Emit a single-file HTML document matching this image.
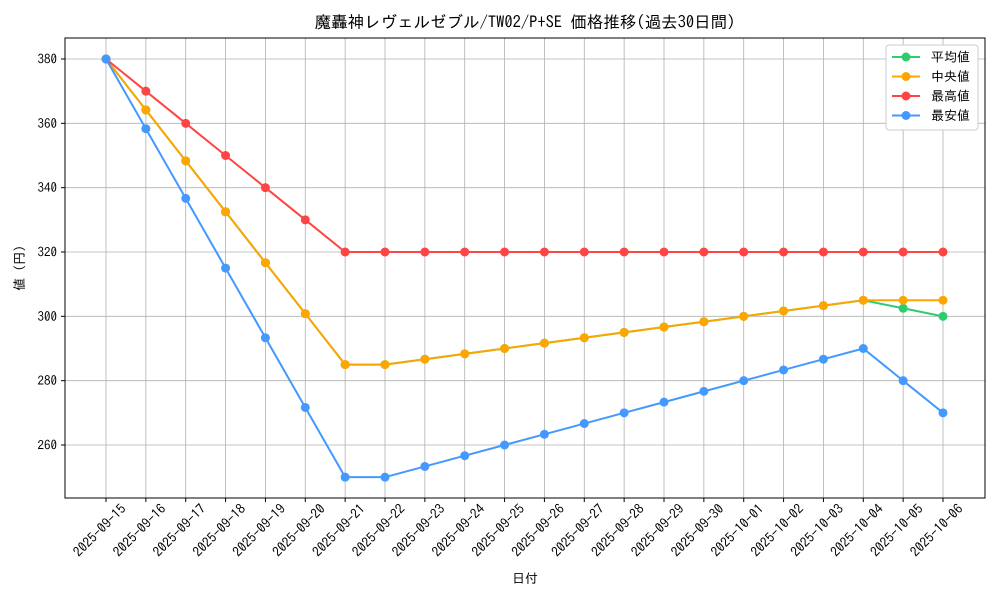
<!DOCTYPE html>
<html><head><meta charset="utf-8"><style>
body{margin:0;background:#fff}
svg text{font-family:"IPAGothic","Liberation Mono","Noto Sans CJK JP",monospace;fill:#000}
</style></head><body>
<svg id="s" width="1000" height="600" xmlns="http://www.w3.org/2000/svg"></svg>
<script>
const s=document.getElementById('s');
const X=i=>106+i*(943-106)/21, Y=v=>59+(380-v)*386/120;
let h='<rect width="1000" height="600" fill="#fff"/>';
const dates=[];
for(let d=15;d<=30;d++)dates.push('2025-09-'+d);
for(let d=1;d<=6;d++)dates.push('2025-10-0'+d);
for(let i=0;i<22;i++){const x=X(i);h+=`<line x1="${x}" y1="38" x2="${x}" y2="498" stroke="#b0b0b0" stroke-width="0.8"/><line x1="${x}" y1="498" x2="${x}" y2="502" stroke="#000"/>`;
h+=`<text transform="translate(${x+14},${503}) rotate(-45)" text-anchor="end" dominant-baseline="hanging" font-size="13.5">${dates[i]}</text>`;}
for(let v=260;v<=380;v+=20){const y=Y(v);h+=`<line x1="65" y1="${y}" x2="985" y2="${y}" stroke="#b0b0b0" stroke-width="0.8"/><line x1="61" y1="${y}" x2="65" y2="${y}" stroke="#000"/><text x="57" y="${y+4.5}" text-anchor="end" font-size="13">${v}</text>`;}
const mx=[380,370,360,350,340,330].concat(Array(16).fill(320));
const mn=[380,358.33,336.67,315,293.33,271.67,250,250,253.33,256.67,260,263.33,266.67,270,273.33,276.67,280,283.33,286.67,290,280,270];
const md=[380,364.17,348.33,332.5,316.67,300.83,285,285,286.67,288.33,290,291.67,293.33,295,296.67,298.33,300,301.67,303.33,305,305,305];
const av=md.slice(0,20).concat([302.5,300]);
const ser=[[av,'#2ecc71'],[md,'#ffa500'],[mx,'#ff4444'],[mn,'#4499ff']];
const draw=(d,c)=>{let p=d.map((v,i)=>X(i)+','+Y(v)).join(' ');let r=`<polyline points="${p}" fill="none" stroke="${c}" stroke-width="2"/>`;d.forEach((v,i)=>r+=`<circle cx="${X(i)}" cy="${Y(v)}" r="4.5" fill="${c}"/>`);return r;};
ser.forEach(a=>h+=draw(a[0],a[1]));
h+='<rect x="65" y="38" width="920" height="460" fill="none" stroke="#000" stroke-width="1"/>';
h+='<text x="525" y="28" text-anchor="middle" font-size="16.5">魔轟神レヴェルゼブル/TW02/P+SE 価格推移(過去30日間)</text>';
h+='<text x="525" y="583" text-anchor="middle" font-size="13">日付</text>';
h+='<text transform="translate(24,268) rotate(-90)" text-anchor="middle" font-size="13">値 (円)</text>';
h+='<rect x="886" y="45" width="92" height="85" fill="#fff" stroke="#ccc" rx="3"/>';
const lab=['平均値','中央値','最高値','最安値'];
ser.forEach((a,i)=>{const y=57+i*19.5;h+=`<line x1="892" y1="${y}" x2="920" y2="${y}" stroke="${a[1]}" stroke-width="2"/><circle cx="906" cy="${y}" r="4.5" fill="${a[1]}"/><text x="931" y="${y+4.5}" font-size="13">${lab[i]}</text>`;});
s.innerHTML=h;
</script>
</body></html>
